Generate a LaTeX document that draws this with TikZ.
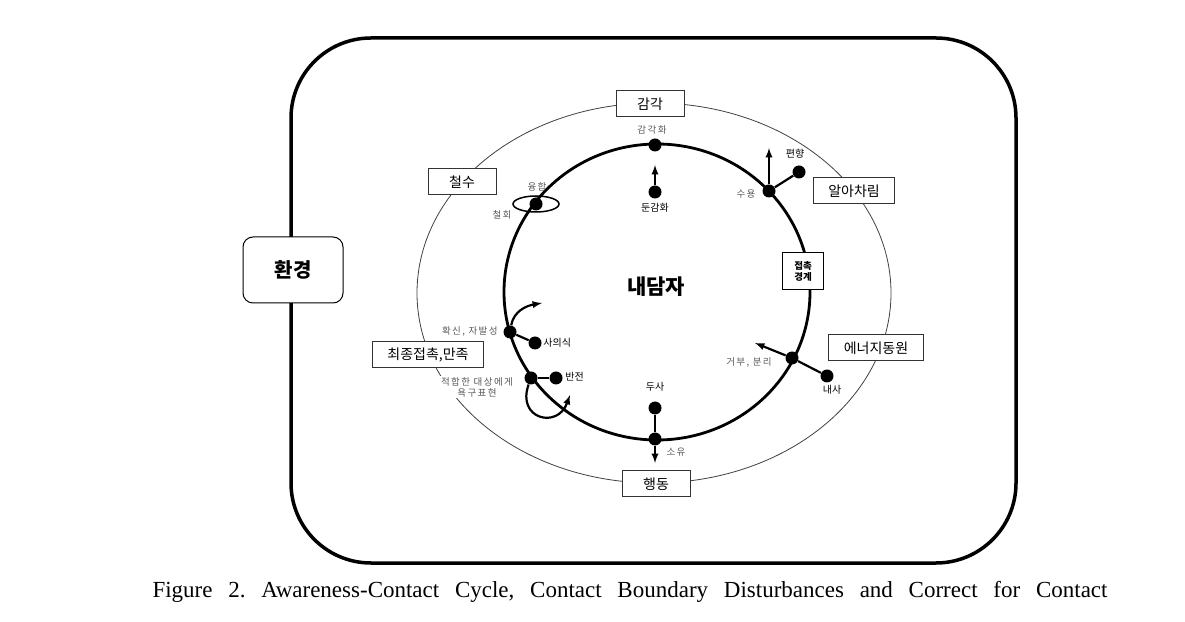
\documentclass[tikz,border=0pt]{standalone}
\usepackage{fontspec}
\usepackage{tikz}
\usetikzlibrary{arrows}
\newfontfamily\kr{Noto Sans CJK KR}
\newfontfamily\krs[LetterSpace=15]{Noto Sans CJK KR}
\newfontfamily\capfont{Liberation Serif}
\frenchspacing

\begin{document}
\begin{tikzpicture}[x=1pt, y=1pt, >=latex, thick,
  spot/.style = {circle, fill, inner sep=0pt, minimum size=13pt},
  box/.style = {draw=black!80, fill=white, line width=1pt, inner xsep=15pt, minimum height=26pt, minimum width=68pt, font=\kr\fontsize{14}{16}\selectfont},
  tag/.style = {font=\krs\fontsize{9.5}{11}\selectfont, text=black!65, inner sep=1pt},
  dark/.style = {font=\kr\fontsize{10}{11}\selectfont, inner sep=1pt},
  link/.style = {line width=2.2pt}]
\useasboundingbox (0,0) rectangle (1185,621);

\draw[line width=3.5pt, rounded corners=80pt] (291,58) rectangle (1016,583);
\node[draw, fill=white, rounded corners=10pt, line width=1pt, minimum width=100pt, minimum height=66pt, font=\kr\bfseries\fontsize{20}{22}\selectfont] (env) at (293,351) {환경};

\draw[line width=0.8pt, black!75] (654,328) ellipse [x radius=237pt, y radius=190pt];
\node[box] (sense) at (650,517) {감각};
\node[box] (withdraw) at (462,439) {철수};
\node[box] (aware) at (854,430) {알아차림};
\node[box] (energy) at (876,273) {에너지동원};
\node[box] (final) at (428,266) {최종접촉,만족};
\node[box] (action) at (656,137) {행동};

\draw[line width=2.8pt] (657,329) ellipse [x radius=153pt, y radius=148pt];
\node[draw, fill=white, line width=1pt, align=center, inner sep=2pt, minimum width=41pt, minimum height=37pt, font=\kr\bfseries\fontsize{9.5}{11}\selectfont] (boundary) at (803,350) {접촉\\경계};
\node[font=\kr\bfseries\fontsize{21}{24}\selectfont] (client) at (656,334) {내담자};

% points on the cycle
\draw[line width=1.5pt] (536,417) ellipse [x radius=23pt, y radius=8pt];
\node[spot] (sensing) at (655,476) {};
\node[spot] (dull) at (655,429) {};
\node[spot] (accept) at (769,430) {};
\node[spot] (bias) at (799,449) {};
\node[spot] (fusion) at (536,417) {};
\node[spot] (confirm) at (510,289) {};
\node[spot] (egotism) at (535,278) {};
\node[spot] (express) at (531,243) {};
\node[spot] (retro) at (556,243) {};
\node[spot] (reject) at (792,263) {};
\node[spot] (introj) at (827,245) {};
\node[spot] (proj) at (655,213) {};
\node[spot] (own) at (655,182) {};

\coordinate (dulltip) at (655,456);
\coordinate (accepttip) at (769,473);
\coordinate (confirmtip) at (542,318);
\coordinate (expresstip) at (570,226);
\coordinate (rejecttip) at (755,278);
\coordinate (owntip) at (655,158);

\draw[->, link] (dull) -- (dulltip);
\draw[->, link] (accept) -- (accepttip);
\draw[link] (accept) -- (bias);
\draw[->, link] (confirm) to [out=80, in=190] (confirmtip);
\draw[link] (confirm) -- (egotism);
\draw[link] (express) -- (retro);
\draw[->, link] (express) to [out=250, in=250, looseness=2.2] (expresstip);
\draw[->, link] (reject) -- (rejecttip);
\draw[link] (reject) -- (introj);
\draw[link] (proj) -- (own);
\draw[->, link] (own) -- (owntip);

% labels
\node[tag] (sensingtxt) at (652,491) {감각화};
\node[dark] (dulltxt) at (655,413) {둔감화};
\node[dark] (biastxt) at (795,467) {편향};
\node[tag] (accepttxt) at (746,427) {수용};
\node[tag] (fusiontxt) at (537,434) {융합};
\node[tag] (retreattxt) at (502,406) {철회};
\node[tag, anchor=east] (confirmtxt) at (499,290) {확신, 자발성};
\node[dark, anchor=west] (egotismtxt) at (542,278) {사의식};
\node[dark, anchor=west] (retrotxt) at (564,244) {반전};
\node[tag, align=center, fill=white] (expresstxt) at (477,234) {적합한 대상에게\\욕구표현};
\node[tag] (rejecttxt) at (749,259) {거부, 분리};
\node[dark] (introjtxt) at (832,231) {내사};
\node[dark] (projtxt) at (655,234) {두사};
\node[tag] (owntxt) at (676,169) {소유};

\node[font=\capfont\fontsize{23}{26}\selectfont, anchor=base, inner sep=0pt] (caption) at (630,24) {\makebox[955pt][s]{Figure 2. Awareness-Contact Cycle, Contact Boundary Disturbances and Correct for Contact}};
\end{tikzpicture}
\end{document}
